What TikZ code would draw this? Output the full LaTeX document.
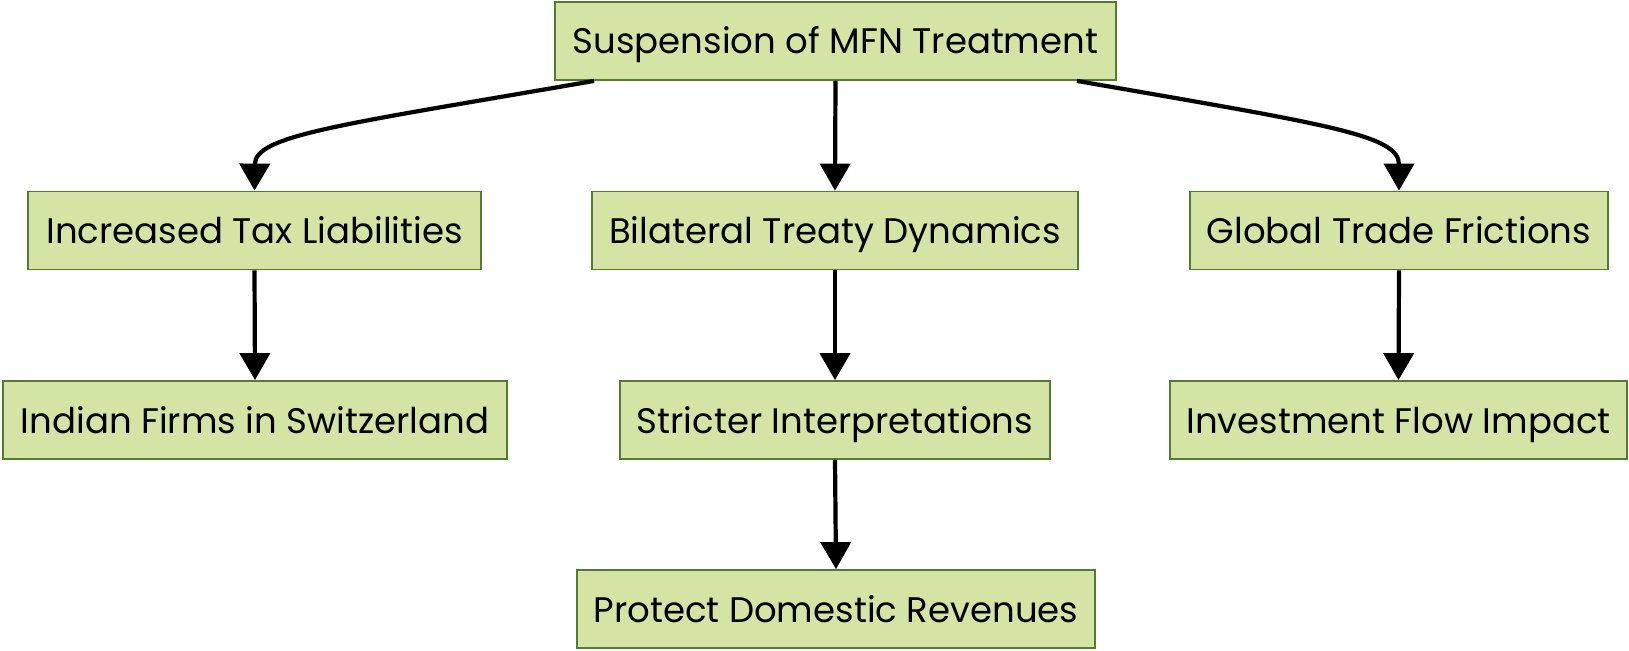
\documentclass[tikz,border=0pt]{standalone}
\usepackage{fontspec}
\setmainfont{Poppins}
\usetikzlibrary{arrows.meta}
\definecolor{boxfill}{HTML}{D4E4A4}
\definecolor{boxline}{HTML}{557A33}
\begin{document}
\begin{tikzpicture}[x=1pt,y=-1pt,
  box/.style={draw=boxline,fill=boxfill,line width=1.8pt,inner sep=0pt,minimum height=78pt,text height=30pt,text depth=4pt,font=\fontsize{35.5}{42}\selectfont},
  conn/.style={draw=black,line width=4.2pt,-{Triangle[width=30pt,length=27pt]}}]
\useasboundingbox (0,0) rectangle (1629,650);
\node[box,minimum width=561pt] (top) at (835.5,41) {Suspension of MFN Treatment};
\node[box,minimum width=453pt] (inc) at (254.5,230.5) {Increased Tax Liabilities};
\node[box,minimum width=486pt] (bil) at (835,230.5) {Bilateral Treaty Dynamics};
\node[box,minimum width=418pt] (glo) at (1399,230.5) {Global Trade Frictions};
\node[box,minimum width=504pt] (ind) at (255,420) {Indian Firms in Switzerland};
\node[box,minimum width=430pt] (str) at (835,420) {Stricter Interpretations};
\node[box,minimum width=457pt] (inv) at (1398.5,420) {Investment Flow Impact};
\node[box,minimum width=518pt] (pro) at (836,609) {Protect Domestic Revenues};
\draw[conn] ([xshift=40pt]top.south west) .. controls (340,125) and (255,135) .. (inc.north);
\draw[conn] ([xshift=-40pt]top.south east) .. controls (1330,125) and (1399,135) .. (glo.north);
\draw[conn] (top.south) -- (bil.north);
\draw[conn] (inc.south) -- (ind.north);
\draw[conn] (glo.south) -- (inv.north);
\draw[conn] (bil.south) -- (str.north);
\draw[conn] (str.south) -- (pro.north);
\end{tikzpicture}
\end{document}
